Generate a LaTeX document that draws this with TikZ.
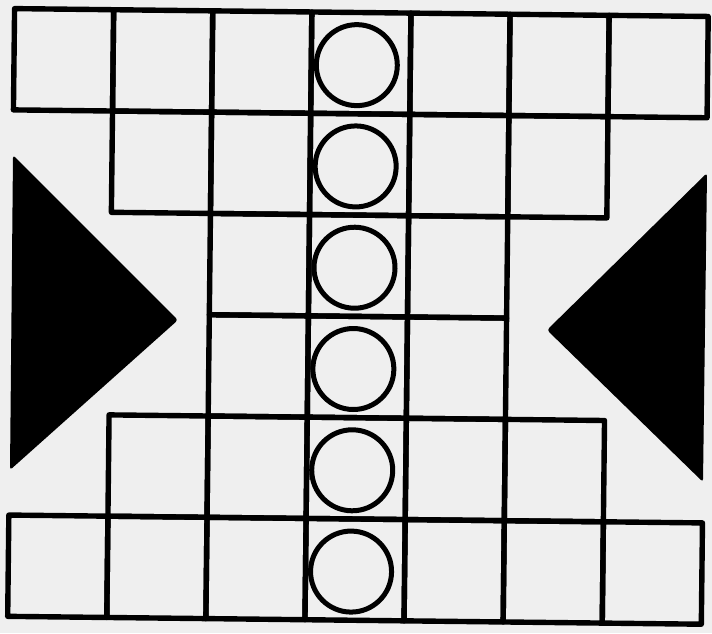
\documentclass[tikz,border=0pt]{standalone}
\definecolor{paper}{RGB}{239,239,239}
\begin{document}
\begin{tikzpicture}[x=1pt,y=-1pt,
  gridcell/.style={draw=black,line width=5.4pt,line join=round},
  ring/.style={draw=black,line width=5pt},
  wedge/.style={fill=black,rounded corners=3pt}]
\fill[paper] (0,0) rectangle (712,633);
\useasboundingbox (0,0) rectangle (712,633);
\begin{scope}[shift={(358,316.5)},rotate=-0.65]
\foreach \r/\a/\b in {0/0/6,1/1/5,2/2/4,3/2/4,4/1/5,5/0/6}{
  \foreach \c in {\a,...,\b}{
    \draw[gridcell] ({-346.9+\c*99.1},{-304+\r*101.3}) rectangle +(99.1,101.3);
  }
  \draw[ring] ({-346.9+3.5*99.1-4},{-304+(\r+0.5)*101.3+2}) circle[radius=40.5];
}
\end{scope}
\fill[wedge] (13,155) -- (178,320) -- (10,470) -- cycle;
\fill[wedge] (707,173) -- (547,330) -- (703,482) -- cycle;
\end{tikzpicture}
\end{document}
